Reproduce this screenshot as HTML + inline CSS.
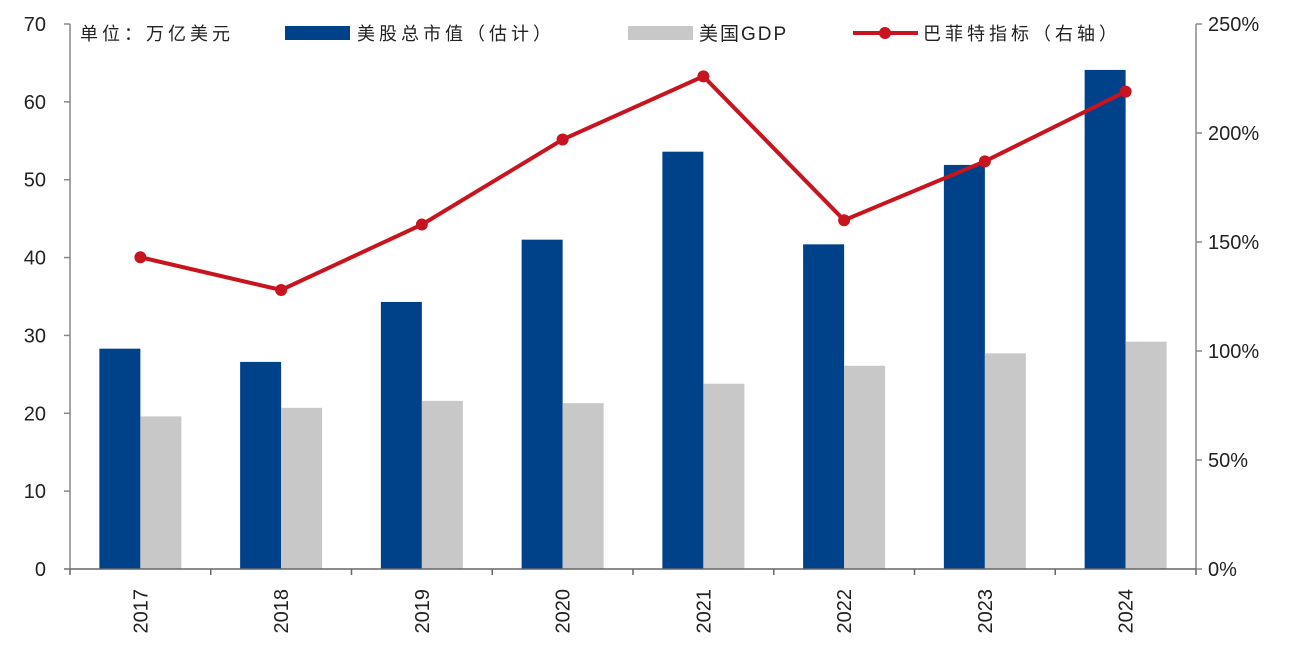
<!DOCTYPE html>
<html><head><meta charset="utf-8"><style>
body{margin:0;background:#fff;}
svg text{font-family:"Liberation Sans","Noto Sans CJK SC",sans-serif;fill:#222;}
.lg{letter-spacing:4px;}
</style></head><body>
<svg id="chart" width="1290" height="654" xmlns="http://www.w3.org/2000/svg">
<g id="marks"></g>
<g id="axes"></g>
<g>
<text class="lg" x="80" y="40" font-size="18">单位：万亿美元</text>
<rect x="285" y="26" width="65" height="14" fill="#00428A"/>
<text class="lg" x="357" y="40" font-size="18">美股总市值（估计）</text>
<rect x="628" y="26" width="65" height="14" fill="#C8C8C8"/>
<text x="699" y="40" font-size="19" style="letter-spacing:2px">美国GDP</text>
<line x1="853" y1="33" x2="918" y2="33" stroke="#C8141E" stroke-width="4"/>
<circle cx="885" cy="33" r="6" fill="#C8141E"/>
<text class="lg" x="923" y="40" font-size="18">巴菲特指标（右轴）</text>
</g>
</svg>
<script>
const categories=["2017","2018","2019","2020","2021","2022","2023","2024"];
const marketCap=[28.3,26.6,34.3,42.3,53.6,41.7,51.9,64.1];
const gdp=[19.6,20.7,21.6,21.3,23.8,26.1,27.7,29.2];
const buffett=[143,128,158,197,226,160,187,219];
const leftTicks=[0,10,20,30,40,50,60,70];
const rightTicks=[0,50,100,150,200,250];
const NS="http://www.w3.org/2000/svg";
const X0=70,X1=1196,Y0=569,Y1=24;
const cw=(X1-X0)/categories.length;
const yL=v=>Y0-(v/70)*(Y0-Y1);
const yR=v=>Y0-(v/250)*(Y0-Y1);
const xc=i=>X0+cw*(i+0.5);
function mk(t,a,p){const e=document.createElementNS(NS,t);for(const k in a)e.setAttribute(k,a[k]);p.appendChild(e);return e;}
const marks=document.getElementById('marks'),axes=document.getElementById('axes');
const bw=41;
categories.forEach((c,i)=>{
 let r=mk('rect',{x:xc(i)-bw,y:yL(marketCap[i]),width:bw,height:Y0-yL(marketCap[i]),fill:'#00428A'},marks);
 
 
 let g=mk('rect',{x:xc(i),y:yL(gdp[i]),width:bw,height:Y0-yL(gdp[i]),fill:'#C8C8C8'},marks);
 
 
});
let pts=buffett.map((v,i)=>xc(i)+','+yR(v)).join(' ');
let pl=mk('polyline',{points:pts,fill:'none',stroke:'#C8141E','stroke-width':4},marks);


buffett.forEach((v,i)=>{
 let c=mk('circle',{cx:xc(i),cy:yR(v),r:6,fill:'#C8141E'},marks);
 
 
});
let la=mk('line',{x1:X0,y1:Y1,x2:X0,y2:Y0,stroke:'#888','stroke-width':1.5},axes);


let ra=mk('line',{x1:X1,y1:Y1,x2:X1,y2:Y0,stroke:'#888','stroke-width':1.5},axes);


let xa=mk('line',{x1:X0-6,y1:Y0,x2:X1,y2:Y0,stroke:'#666','stroke-width':1.5},axes);


leftTicks.forEach(v=>{
 mk('line',{x1:X0-6,y1:yL(v),x2:X0,y2:yL(v),stroke:'#888','stroke-width':1.5},axes);
 let t=mk('text',{x:X0-24,y:yL(v)+7,'font-size':20,'text-anchor':'end'},axes);
 t.textContent=v;
 
 
});
rightTicks.forEach(v=>{
 mk('line',{x1:X1,y1:yR(v),x2:X1+6,y2:yR(v),stroke:'#888','stroke-width':1.5},axes);
 let t=mk('text',{x:X1+12,y:yR(v)+7,'font-size':20},axes);
 t.textContent=v+'%';
 
 
});
for(let i=0;i<=categories.length;i++){
 mk('line',{x1:X0+cw*i,y1:Y0,x2:X0+cw*i,y2:Y0+6,stroke:'#666','stroke-width':1.5},axes);
}
categories.forEach((c,i)=>{
 let t=mk('text',{x:0,y:0,'font-size':20,'text-anchor':'end',transform:`translate(${xc(i)+7},589) rotate(-90)`},axes);
 t.textContent=c;
 
 
});
</script>
</body></html>
